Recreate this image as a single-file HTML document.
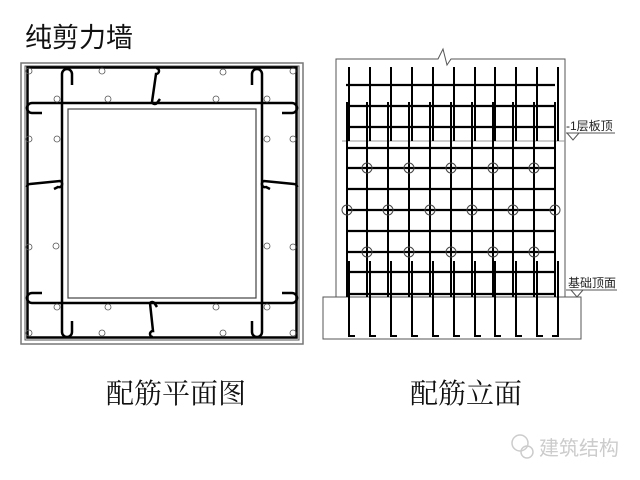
<!DOCTYPE html>
<html><head><meta charset="utf-8"><style>
html,body{margin:0;padding:0;background:#fff;width:640px;height:480px;overflow:hidden}
.t{position:absolute;font-family:"Liberation Sans","Noto Sans CJK SC",sans-serif;color:#111;white-space:nowrap}
.s{font-family:"Liberation Serif","Noto Serif CJK SC",serif}
</style></head><body>
<div class="t" style="left:25px;top:16px;font-size:27px">纯剪力墙</div>
<div class="t s" style="left:106px;top:372px;font-size:28px">配筋平面图</div>
<div class="t s" style="left:410px;top:372px;font-size:28px">配筋立面</div>
<div class="t" style="left:539px;top:432px;font-size:20px;color:#ccc">建筑结构</div>
<svg width="640" height="480" style="position:absolute;left:0;top:0" fill="none">
<!-- watermark icon -->
<g stroke="#ccc" stroke-width="1.5"><circle cx="520" cy="443" r="8"/><circle cx="527" cy="452" r="6"/></g>
<!-- PLAN -->
<rect x="21" y="63" width="282" height="281" stroke="#777" stroke-width="1.5"/>
<rect x="25" y="66" width="274" height="274" stroke="#555" stroke-width="1"/>
<rect x="27.5" y="67.5" width="269" height="270" stroke="#000" stroke-width="2.5"/>
<line x1="62" y1="103" x2="262" y2="103" stroke="#000" stroke-width="2.5"/>
<line x1="62" y1="303" x2="262" y2="303" stroke="#000" stroke-width="2.5"/>
<line x1="62" y1="103" x2="62" y2="303" stroke="#000" stroke-width="2.5"/>
<line x1="262" y1="103" x2="262" y2="303" stroke="#000" stroke-width="2.5"/>
<rect x="68" y="109" width="188" height="189" stroke="#444" stroke-width="1.2"/>
<g stroke="#000" stroke-width="2.5">
<path d="M62,103V74a5,5 0 0 1 10,0V85"/><path d="M262,103V74a5,5 0 0 0 -10,0V85"/>
<path d="M62,303V332a5,5 0 0 0 10,0V321"/><path d="M262,303V332a5,5 0 0 1 -10,0V321"/>
<path d="M62,103H32a5,5 0 0 0 0,10H42"/><path d="M262,103H292a5,5 0 0 1 0,10H282"/>
<path d="M62,303H32a5,5 0 0 1 0,-10H42"/><path d="M262,303H292a5,5 0 0 0 0,-10H282"/>
<path d="M156,68a3,3 0 0 1 0,6L152,102a3,3 0 0 0 5,1l3,-4"/>
<path d="M153,337a3,3 0 0 1 0,-6L150,303a3,3 0 0 1 5,1l2,3"/>
<path d="M27,187a3,3 0 0 1 3,-3L60,181a3,3 0 0 1 -2,6l-4,2"/>
<path d="M297,187a3,3 0 0 0 -3,-3L264,181a3,3 0 0 0 2,6l4,2"/>
</g>
<g stroke="#555" stroke-width="0.8">
<circle cx="29" cy="71" r="3"/><circle cx="102" cy="71" r="3"/><circle cx="223" cy="72" r="3"/><circle cx="293" cy="71" r="3"/>
<circle cx="57" cy="99" r="3"/><circle cx="108" cy="99" r="3"/><circle cx="216" cy="99" r="3"/><circle cx="267" cy="99" r="3"/>
<circle cx="29" cy="139" r="3"/><circle cx="57" cy="139" r="3"/><circle cx="267" cy="139" r="3"/><circle cx="293" cy="139" r="3"/>
<circle cx="29" cy="247" r="3"/><circle cx="56" cy="246" r="3"/><circle cx="267" cy="246" r="3"/><circle cx="293" cy="247" r="3"/>
<circle cx="57" cy="307" r="3"/><circle cx="108" cy="307" r="3"/><circle cx="216" cy="307" r="3"/><circle cx="267" cy="307" r="3"/>
<circle cx="29" cy="333" r="3"/><circle cx="102" cy="333" r="3"/><circle cx="223" cy="333" r="3"/><circle cx="293" cy="333" r="3"/>
</g>
<!-- ELEVATION -->
<g stroke="#555" stroke-width="1">
<path d="M336,297V59H438L443,49L447,65L451,59H565V297"/>
<rect x="323" y="297" width="258" height="42"/>
<line x1="342" y1="141" x2="565" y2="141" stroke="#999"/>
<line x1="566" y1="133" x2="615" y2="133"/><path d="M567,133L573,140L579,133"/>
<line x1="566" y1="290" x2="617" y2="290"/><path d="M571,290L577,297L583,290"/>
</g>
<g stroke="#000" stroke-width="2">
<path d="M349,67V141M370,67V141M391,67V141M412,67V141M433,67V141M454,67V141M475,67V141M495,67V141M516,67V141M537,67V141M558,67V141"/>
<path d="M347,102V297M367,102V297M388,102V297M409,102V297M430,102V297M451,102V297M472,102V297M493,102V297M513,102V297M534,102V297M555,102V297"/>
<path d="M349,261V336H355M370,261V336H376M391,261V336H397M412,261V336H418M433,261V336H439M454,261V336H460M475,261V336H481M495,261V336H501M516,261V336H522M537,261V336H543M558,261V336H552"/>
<path d="M346,85H555M346,106H555M346,127H555M346,148H555M346,168H555M346,189H555M346,210H555M346,231H555M346,252H555M346,272H555M346,294H555" stroke-width="2.2"/>
</g>
<g stroke="#444" stroke-width="1">
<circle cx="367" cy="168" r="5"/><circle cx="409" cy="168" r="5"/><circle cx="451" cy="168" r="5"/><circle cx="493" cy="168" r="5"/><circle cx="534" cy="168" r="5"/>
<circle cx="347" cy="210" r="5"/><circle cx="388" cy="210" r="5"/><circle cx="430" cy="210" r="5"/><circle cx="472" cy="210" r="5"/><circle cx="513" cy="210" r="5"/><circle cx="555" cy="210" r="5"/>
<circle cx="367" cy="252" r="5"/><circle cx="409" cy="252" r="5"/><circle cx="451" cy="252" r="5"/><circle cx="493" cy="252" r="5"/><circle cx="534" cy="252" r="5"/>
</g>
<text x="566" y="130" font-family="Liberation Sans,Noto Sans CJK SC,sans-serif" font-size="12" fill="#222">-1层板顶</text>
<text x="568" y="287" font-family="Liberation Sans,Noto Sans CJK SC,sans-serif" font-size="12" fill="#222">基础顶面</text>
</svg>
</body></html>
